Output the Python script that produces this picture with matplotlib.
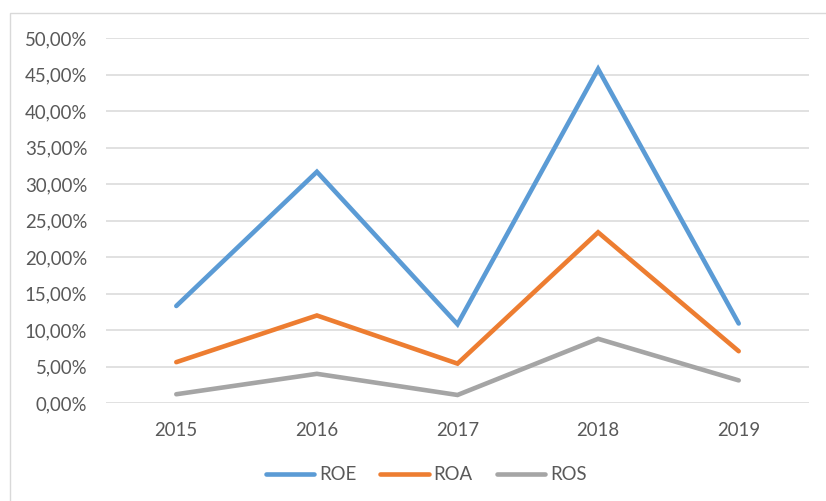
import matplotlib
matplotlib.use("Agg")
import matplotlib.pyplot as plt
from matplotlib.patches import Rectangle
from matplotlib.ticker import FuncFormatter

years = ["2015", "2016", "2017", "2018", "2019"]
roe = [13.3, 31.7, 10.8, 45.8, 10.9]
roa = [5.6, 12.0, 5.4, 23.4, 7.1]
ros = [1.2, 4.0, 1.1, 8.8, 3.1]
series_names = ["ROE", "ROA", "ROS"]
colors = ["#5B9BD5", "#ED7D31", "#A5A5A5"]
yticks = [0, 5, 10, 15, 20, 25, 30, 35, 40, 45, 50]

plt.rcParams['font.family'] = ['Lato', 'DejaVu Sans']
text_color = "#595959"
fs = 13.4

fig = plt.figure(figsize=(8.26, 5.01), dpi=100)
W, H = 826, 501
# outer chart frame (partially cropped)
fig.patches.append(Rectangle((10 / W, -0.01), 1.05, 1 - 13 / H + 0.01,
                             transform=fig.transFigure, fill=False,
                             edgecolor="#D9D9D9", linewidth=1.0))

ax = fig.add_axes([106 / W, 1 - 403 / H, (809 - 106) / W, (403 - 38.3) / H])
x = list(range(len(years)))
for vals, name, c in zip([roe, roa, ros], series_names, colors):
    ax.plot(x, vals, color=c, linewidth=3.3, label=name,
            solid_capstyle="round", solid_joinstyle="miter")

ax.set_xlim(-0.5, len(years) - 0.5)
ax.set_ylim(0, 50)
ax.set_xticks(x)
ax.set_xticklabels(years)
ax.set_yticks(yticks)
ax.yaxis.set_major_formatter(FuncFormatter(lambda v, p: f"{v:.2f}%".replace(".", ",")))
ax.tick_params(axis="both", length=0, labelsize=fs, labelcolor=text_color)
ax.tick_params(axis="y", pad=13.5)
ax.tick_params(axis="x", pad=13.5)
ax.grid(axis="y", color="#D9D9D9", linewidth=1.1)
ax.set_axisbelow(True)
for s in ax.spines.values():
    s.set_visible(False)

leg = fig.legend(loc="center", bbox_to_anchor=(426 / W, 1 - 475 / H), ncol=3,
                 frameon=False, fontsize=fs, handlelength=2.6, handletextpad=0.25,
                 columnspacing=1.3)
for t in leg.get_texts():
    t.set_color(text_color)
for h in leg.get_lines():
    h.set_solid_capstyle("round")
    h.set_linewidth(3.3)

fig.savefig("out.png", dpi=100)
